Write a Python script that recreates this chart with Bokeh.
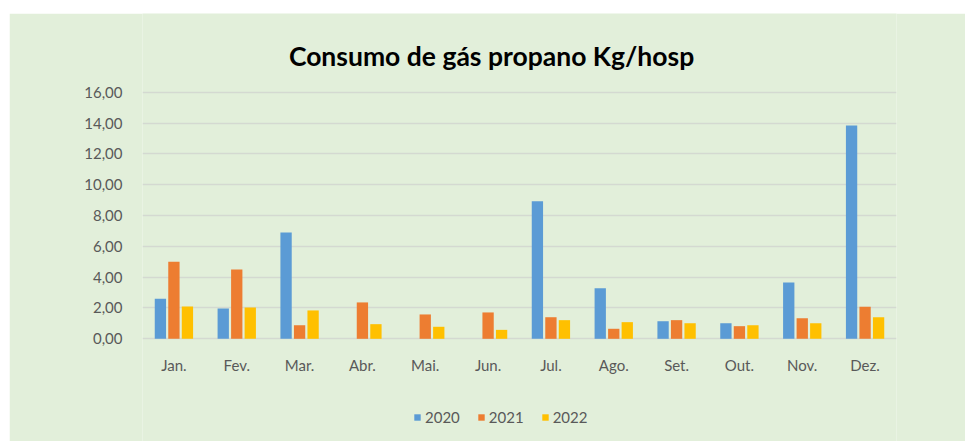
from bokeh.plotting import figure
from bokeh.models import FactorRange, Range1d, FixedTicker, Legend, LegendItem, Label, ColumnDataSource
from bokeh.core.properties import value
from bokeh.transform import dodge
from bokeh.embed import file_html
from bokeh.resources import INLINE

months = ["Jan.", "Fev.", "Mar.", "Abr.", "Mai.", "Jun.", "Jul.", "Ago.", "Set.", "Out.", "Nov.", "Dez."]
y2020 = [2.60, 1.97, 6.90, 0.0, 0.0, 0.0, 8.93, 3.28, 1.14, 1.01, 3.65, 13.84]
y2021 = [5.00, 4.50, 0.88, 2.36, 1.58, 1.71, 1.40, 0.65, 1.21, 0.82, 1.34, 2.08]
y2022 = [2.10, 2.03, 1.84, 0.95, 0.78, 0.58, 1.21, 1.08, 1.01, 0.88, 1.01, 1.40]
series_names = ["2020", "2021", "2022"]
y_ticks = [0, 2, 4, 6, 8, 10, 12, 14, 16]
title_text = "Consumo de gás propano Kg/hosp"

colors = ["#5B9BD5", "#ED7D31", "#FFC000"]
bg = "#E2EFDA"
font = "Lato"
label_color = "#595959"

src = ColumnDataSource(dict(m=months, a=y2020, b=y2021, c=y2022,
                            ly=[-1.73] * len(months)))

# frame covers the whole chart height; values 0..16 occupy the plot band
p = figure(width=956, height=428, margin=(13, 0, 0, 9),
           x_range=FactorRange(factors=months, range_padding=0),
           y_range=Range1d(-6.663, 21.106), output_backend="svg", toolbar_location=None,
           min_border_left=133, min_border_right=69, min_border_top=0, min_border_bottom=0)
p.background_fill_color = bg
p.border_fill_color = bg
p.outline_line_color = None

renderers = []
for col, off, c in zip(["a", "b", "c"], [-0.215, 0.0, 0.215], colors):
    r = p.vbar(x=dodge("m", off, range=p.x_range), top=col, width=0.18, source=src,
               fill_color=c, line_color=None)
    renderers.append(r)

# month labels (category axis)
p.text(x="m", y="ly", text="m", source=src, text_align="center", text_baseline="middle",
       text_font=value(font), text_font_size="15px", text_color=label_color)

# grid
p.xgrid.grid_line_color = None
p.ygrid.ticker = FixedTicker(ticks=y_ticks)
p.ygrid.grid_line_color = "#D4D9D1"
p.ygrid.grid_line_width = 1.5

# y axis
p.yaxis.ticker = FixedTicker(ticks=y_ticks)
p.yaxis.major_label_overrides = {t: ("%.2f" % t).replace(".", ",") for t in y_ticks}
p.yaxis.axis_line_color = None
p.yaxis.major_tick_line_color = None
p.yaxis.minor_tick_line_color = None
p.yaxis.major_label_standoff = 14
p.yaxis.major_label_text_font = font
p.yaxis.major_label_text_font_size = "15px"
p.yaxis.major_label_text_color = label_color

p.xaxis.visible = False

# title
p.add_layout(Label(x=5.555, y=18.38, text=title_text, text_align="center", text_baseline="middle",
                   text_font=font, text_font_style="bold", text_font_size="26.5px",
                   text_color="#000000"))

legend = Legend(items=[LegendItem(label=n, renderers=[r]) for n, r in zip(series_names, renderers)],
                orientation="horizontal", location=(271, 15), padding=0, margin=0,
                spacing=17, label_standoff=4, glyph_width=8, glyph_height=8,
                label_text_font=font, label_text_font_size="15px", label_text_color=label_color,
                background_fill_alpha=0, border_line_alpha=0)
p.add_layout(legend, "center")

open("out.html", "w").write(file_html(p, INLINE))
